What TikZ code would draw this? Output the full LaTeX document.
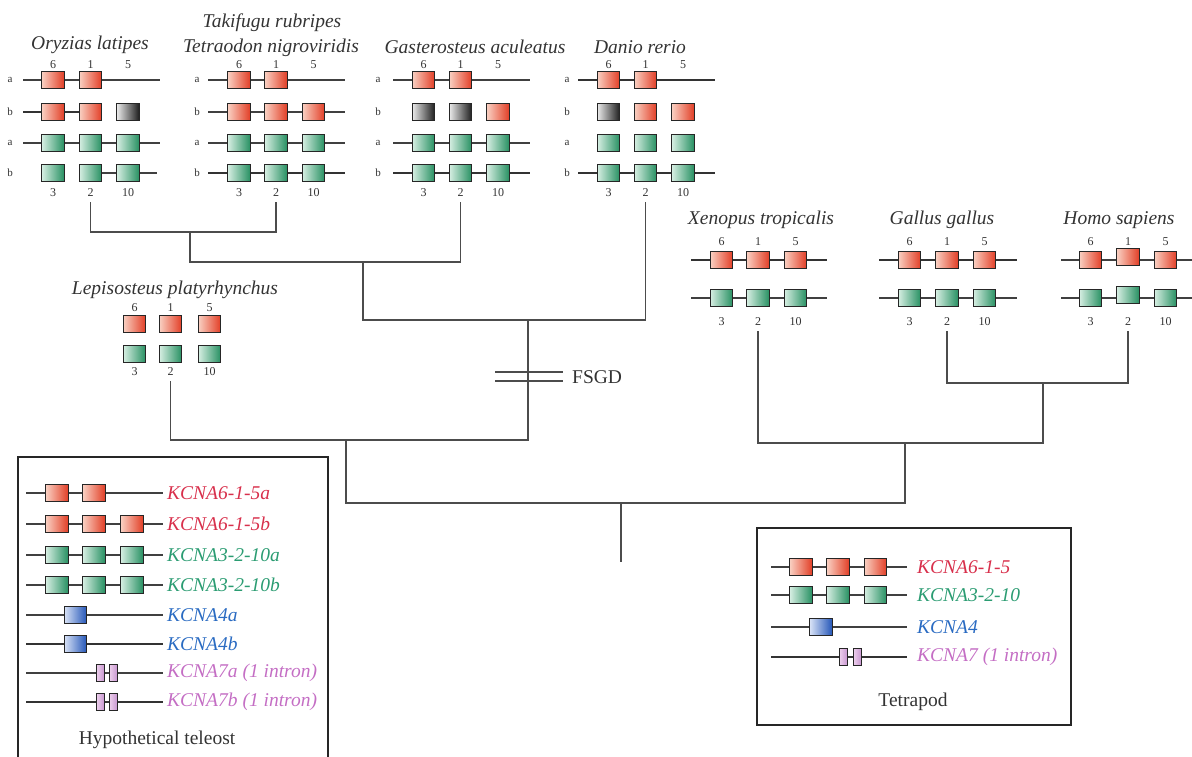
\documentclass[tikz,border=0pt]{standalone}
\usepackage{fontspec}
\setmainfont{Liberation Serif}
\definecolor{redL}{HTML}{F9D0C2}
\definecolor{redR}{HTML}{E23E26}
\definecolor{greenL}{HTML}{D6EEE2}
\definecolor{greenR}{HTML}{279062}
\definecolor{greyL}{HTML}{EAEAEA}
\definecolor{greyR}{HTML}{1E1E1E}
\definecolor{blueL}{HTML}{D8E2F6}
\definecolor{blueR}{HTML}{2456B8}
\definecolor{pinkL}{HTML}{EBCDEB}
\definecolor{pinkR}{HTML}{C896D0}
\definecolor{kred}{HTML}{D8304C}
\definecolor{kgreen}{HTML}{2B9C72}
\definecolor{kblue}{HTML}{2A6BC2}
\definecolor{kpink}{HTML}{C46EC4}
\definecolor{txt}{HTML}{333333}
\newcommand\grow[4]{\foreach \xx [count=\nn] in {#3} {\node[#2] (#1\nn) at (\xx,#4) {};}}
\begin{document}
\begin{tikzpicture}[x=1pt,y=-1pt,
 gb/.style={draw=black!85, line width=1.4pt, minimum width=22.5pt, minimum height=17pt, inner sep=0pt},
 rb/.style={gb, left color=redL, right color=redR},
 grb/.style={gb, left color=greenL, right color=greenR},
 kb/.style={gb, left color=greyL, right color=greyR},
 bb/.style={gb, left color=blueL, right color=blueR},
 pb/.style={gb, minimum width=7.5pt, line width=1.2pt, left color=pinkL, right color=pinkR},
 gl/.style={line width=1.2pt, draw=black!75},
 glt/.style={line width=1.8pt, draw=black!80},
 tree/.style={line width=1.4pt, draw=black!70},
 num/.style={font=\fontsize{12}{14}\selectfont, text=txt, inner sep=1pt},
 ab/.style={font=\fontsize{11}{13}\selectfont, text=txt, inner sep=1pt},
 sp/.style={font=\fontsize{19.5}{22}\selectfont\itshape, text=txt, inner sep=0pt},
 leg/.style={font=\fontsize{19.5}{22}\selectfont\itshape, anchor=west, inner sep=0pt},
 plain/.style={font=\fontsize{19.5}{22}\selectfont, text=txt, inner sep=0pt},
 frame/.style={line width=2.2pt, draw=black!85}]
\useasboundingbox (0,0) rectangle (1192,757);

% ---------------- Oryzias latipes
\node[sp] (tOry) at (90,45) {Oryzias latipes};
\foreach \xx/\cc in {53/6,90.5/1,128/5} \node[num] (on\cc) at (\xx,65) {\cc};
\foreach \yy/\cc [count=\nn] in {80/a,112/b,143/a,173/b} \node[ab] (ol\nn) at (10,\yy) {\cc};
\draw[gl] (23,80) -- (160,80);
\grow{ora}{rb}{53,90.5}{80}
\draw[glt] (23,112) -- (102,112);
\grow{orb}{rb}{53,90.5}{112}
\node[kb] (orb3) at (128,112) {};
\draw[gl] (23,143) -- (160,143);
\grow{oga}{grb}{53,90.5,128}{143}
\draw[gl] (79,173) -- (157,173);
\grow{ogb}{grb}{53,90.5,128}{173}
\node[num] (o3) at (53,193) {3};
\node[num] (o2) at (90.5,193) {2};
\node[num] (o10) at (128,193) {10};

% ---------------- Takifugu / Tetraodon
\node[sp] (tTak) at (272,23) {Takifugu rubripes};
\node[sp] (tTet) at (271,48) {Tetraodon nigroviridis};
\foreach \xx/\cc in {239/6,276/1,313.5/5} \node[num] (tn\cc) at (\xx,65) {\cc};
\foreach \yy/\cc [count=\nn] in {80/a,112/b,143/a,173/b} \node[ab] (tl\nn) at (197,\yy) {\cc};
\draw[gl] (208,80) -- (345,80);
\grow{tra}{rb}{239,276}{80}
\draw[gl] (208,112) -- (345,112);
\grow{trb}{rb}{239,276,313.5}{112}
\draw[gl] (208,143) -- (345,143);
\grow{tga}{grb}{239,276,313.5}{143}
\draw[glt] (208,173) -- (345,173);
\grow{tgb}{grb}{239,276,313.5}{173}
\node[num] (t3) at (239,193) {3};
\node[num] (t2) at (276,193) {2};
\node[num] (t10) at (313.5,193) {10};

% ---------------- Gasterosteus aculeatus
\node[sp] (tGas) at (475,47) {Gasterosteus aculeatus};
\foreach \xx/\cc in {423.5/6,460.5/1,498/5} \node[num] (gn\cc) at (\xx,65) {\cc};
\foreach \yy/\cc [count=\nn] in {80/a,112/b,143/a,173/b} \node[ab] (gl\nn) at (378,\yy) {\cc};
\draw[gl] (393,80) -- (530,80);
\grow{gra}{rb}{423.5,460.5}{80}
\grow{grbk}{kb}{423.5,460.5}{112}
\node[rb] (grb3) at (498,112) {};
\draw[gl] (393,143) -- (530,143);
\grow{gga}{grb}{423.5,460.5,498}{143}
\draw[glt] (393,173) -- (530,173);
\grow{ggb}{grb}{423.5,460.5,498}{173}
\node[num] (g3) at (423.5,193) {3};
\node[num] (g2) at (460.5,193) {2};
\node[num] (g10) at (498,193) {10};

% ---------------- Danio rerio
\node[sp] (tDan) at (640,47) {Danio rerio};
\foreach \xx/\cc in {608.5/6,645.5/1,683/5} \node[num] (dn\cc) at (\xx,65) {\cc};
\foreach \yy/\cc [count=\nn] in {80/a,112/b,143/a,173/b} \node[ab] (dl\nn) at (567,\yy) {\cc};
\draw[glt] (578,80) -- (715,80);
\grow{dra}{rb}{608.5,645.5}{80}
\node[kb] (drb1) at (608.5,112) {};
\grow{drbr}{rb}{645.5,683}{112}
\grow{dga}{grb}{608.5,645.5,683}{143}
\draw[glt] (578,173) -- (715,173);
\grow{dgb}{grb}{608.5,645.5,683}{173}
\node[num] (d3) at (608.5,193) {3};
\node[num] (d2) at (645.5,193) {2};
\node[num] (d10) at (683,193) {10};

% ---------------- Lepisosteus
\node[sp] (tLep) at (175,290) {Lepisosteus platyrhynchus};
\foreach \xx/\cc in {134.5/6,170.5/1,209.5/5} \node[num] (ln\cc) at (\xx,308) {\cc};
\grow{lr}{rb}{134.5,170.5,209.5}{324}
\grow{lg}{grb}{134.5,170.5,209.5}{354}
\node[num] (l3) at (134.5,372) {3};
\node[num] (l2) at (170.5,372) {2};
\node[num] (l10) at (209.5,372) {10};

% ---------------- Xenopus
\node[sp] (tXen) at (761,220) {Xenopus tropicalis};
\foreach \xx/\cc in {721.5/6,758/1,795.5/5} \node[num] (xn\cc) at (\xx,242) {\cc};
\draw[glt] (691,260) -- (827,260);
\grow{xr}{rb}{721.5,758,795.5}{260}
\draw[gl] (691,298) -- (827,298);
\grow{xg}{grb}{721.5,758,795.5}{298}
\node[num] (x3) at (721.5,322) {3};
\node[num] (x2) at (758,322) {2};
\node[num] (x10) at (795.5,322) {10};

% ---------------- Gallus
\node[sp] (tGal) at (942,220) {Gallus gallus};
\foreach \xx/\cc in {909.5/6,947/1,984.5/5} \node[num] (can\cc) at (\xx,242) {\cc};
\draw[glt] (879,260) -- (1017,260);
\grow{car}{rb}{909.5,947,984.5}{260}
\draw[gl] (879,298) -- (1017,298);
\grow{cag}{grb}{909.5,947,984.5}{298}
\node[num] (ga3) at (909.5,322) {3};
\node[num] (ga2) at (947,322) {2};
\node[num] (ga10) at (984.5,322) {10};

% ---------------- Homo
\node[sp] (tHom) at (1119,220) {Homo sapiens};
\foreach \xx/\cc in {1090.5/6,1128/1,1165.5/5} \node[num] (hn\cc) at (\xx,242) {\cc};
\draw[gl] (1061,260) -- (1192,260);
\node[rb] (hr1) at (1090.5,260) {};
\node[rb] (hr2) at (1128,257) {};
\node[rb] (hr3) at (1165.5,260) {};
\draw[gl] (1061,298) -- (1192,298);
\node[grb] (hg1) at (1090.5,298) {};
\node[grb] (hg2) at (1128,295) {};
\node[grb] (hg3) at (1165.5,298) {};
\node[num] (h3) at (1090.5,322) {3};
\node[num] (h2) at (1128,322) {2};
\node[num] (h10) at (1165.5,322) {10};

% ---------------- Tree
\coordinate (j1) at (190,232);
\coordinate (j2) at (363,262);
\coordinate (j3) at (528,320);
\coordinate (j4) at (346,440);
\coordinate (j5) at (621,503);
\coordinate (j6) at (905,443);
\coordinate (j7) at (1043,383);
\coordinate (root) at (621,562);
\draw[tree] ([yshift=-4pt]o2.south) |- (j1) -| ([yshift=-4pt]t2.south);
\draw[tree] (j1) |- (j2) -| ([yshift=-4pt]g2.south);
\draw[tree] (j2) |- (j3) -| ([yshift=-4pt]d2.south);
\draw[tree] ([yshift=-4pt]l2.south) |- (j4) -| (j3);
\draw[tree] (j4) |- (j5) -| (j6);
\draw[tree] (j5) -- (root);
\draw[tree] ([yshift=-4pt]x2.south) |- (j6) -| (j7);
\draw[tree] ([yshift=-4pt]ga2.south) |- (j7) -| ([yshift=-4pt]h2.south);
% FSGD
\coordinate (f1a) at (495,372); \coordinate (f1b) at (563,372);
\coordinate (f2a) at (495,381); \coordinate (f2b) at (563,381);
\draw[tree] (f1a) -- (f1b);
\draw[tree] (f2a) -- (f2b);
\node[plain, anchor=west] (fsgd) at (572,377) {FSGD};

% ---------------- Legend: hypothetical teleost
\draw[frame] (18,757) -- (18,457) -- (328,457) -- (328,757);
\draw[gl] (26,493) -- (163,493);
\grow{la}{rb}{57,94}{493}
\draw[gl] (26,524) -- (163,524);
\grow{lb}{rb}{57,94,132}{524}
\draw[gl] (26,555) -- (163,555);
\grow{lc}{grb}{57,94,132}{555}
\draw[gl] (26,585) -- (163,585);
\grow{ld}{grb}{57,94,132}{585}
\draw[gl] (26,615) -- (163,615);
\node[bb] (le1) at (75.5,615) {};
\draw[glt] (26,644) -- (163,644);
\node[bb] (lf1) at (75.5,644) {};
\draw[gl] (26,673) -- (163,673);
\grow{lg}{pb}{100.5,113.5}{673}
\draw[glt] (26,702) -- (163,702);
\grow{lh}{pb}{100.5,113.5}{702}
\node[leg, text=kred] (ka) at (167,493) {KCNA6-1-5a};
\node[leg, text=kred] (kb) at (167,524) {KCNA6-1-5b};
\node[leg, text=kgreen] (kc) at (167,555) {KCNA3-2-10a};
\node[leg, text=kgreen] (kd) at (167,585) {KCNA3-2-10b};
\node[leg, text=kblue] (ke) at (167,615) {KCNA4a};
\node[leg, text=kblue] (kf) at (167,644) {KCNA4b};
\node[leg, text=kpink] (kg) at (167,673) {KCNA7a (1 intron)};
\node[leg, text=kpink] (kh) at (167,702) {KCNA7b (1 intron)};
\node[plain] (hyp) at (157,740) {Hypothetical teleost};

% ---------------- Legend: tetrapod
\draw[frame] (757,528) rectangle (1071,725);
\draw[gl] (771,567) -- (907,567);
\grow{ta}{rb}{801,838,875.5}{567}
\draw[gl] (771,595) -- (907,595);
\grow{tb}{grb}{801,838,875.5}{595}
\draw[gl] (771,627) -- (907,627);
\node[bb] (tc1) at (821,627) {};
\draw[glt] (771,657) -- (907,657);
\grow{td}{pb}{843.5,857.5}{657}
\node[leg, text=kred] (ta) at (917,567) {KCNA6-1-5};
\node[leg, text=kgreen] (tb) at (917,595) {KCNA3-2-10};
\node[leg, text=kblue] (tc) at (917,627) {KCNA4};
\node[leg, text=kpink] (td) at (917,657) {KCNA7 (1 intron)};
\node[plain] (tet) at (913,702) {Tetrapod};
\end{tikzpicture}
\end{document}
